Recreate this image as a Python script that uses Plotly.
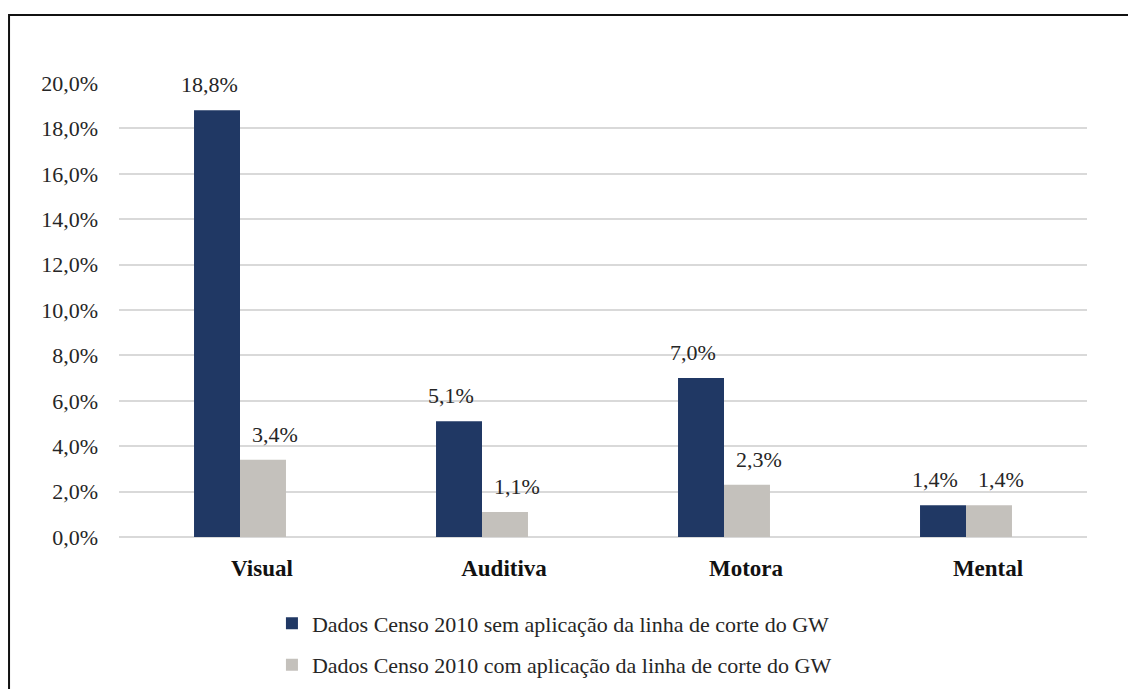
import plotly.graph_objects as go

categories = ["Visual", "Auditiva", "Motora", "Mental"]
sem_corte = [18.8, 5.1, 7.0, 1.4]
com_corte = [3.4, 1.1, 2.3, 1.4]
series_names = [
    "Dados Censo 2010 sem aplicação da linha de corte do GW",
    "Dados Censo 2010 com aplicação da linha de corte do GW",
]
y_ticks = [0, 2, 4, 6, 8, 10, 12, 14, 16, 18, 20]

NAVY = "#203864"
GRAY = "#C4C1BC"
FONT = "'Liberation Serif', 'Times New Roman', Times, serif"

fig = go.Figure()
fig.add_trace(go.Bar(x=categories, y=sem_corte, name=series_names[0],
                     marker=dict(color=NAVY, line=dict(width=0)),
                     legendgroup="a"))
fig.add_trace(go.Bar(x=categories, y=com_corte, name=series_names[1],
                     marker=dict(color=GRAY, line=dict(width=0)),
                     legendgroup="b"))

def fmt(v):
    return f"{v:.1f}".replace(".", ",") + "%"

for vals, shift in ((sem_corte, -31), (com_corte, 35)):
    for c, v in zip(categories, vals):
        fig.add_annotation(x=c, y=v, text=fmt(v), showarrow=False,
                           xshift=shift, yshift=11, yanchor="bottom",
                           font=dict(family=FONT, size=22, color="#262626"))

fig.add_shape(type="rect", xref="paper", yref="paper",
              x0=-0.1136, x1=1.08, y0=-0.4, y1=1.15,
              line=dict(color="#111111", width=2), layer="above")

fig.update_layout(
    width=1128, height=681,
    margin=dict(l=111, r=49, t=75, b=152, autoexpand=False),
    paper_bgcolor="white", plot_bgcolor="white",
    barmode="group", bargap=0.62, bargroupgap=0,
    separators=",.",
    font=dict(family=FONT, size=22, color="#262626"),
    showlegend=True,
    legend=dict(x=0.158, xanchor="left", y=-0.144, yanchor="top",
                orientation="v", traceorder="grouped", tracegroupgap=10,
                font=dict(family=FONT, size=22, color="#262626"),
                itemwidth=30, bgcolor="rgba(0,0,0,0)"),
    xaxis=dict(showgrid=False, showline=False, ticks="",
               tickfont=dict(family=FONT, size=23, color="#111111", weight="bold"),
               ticklabelstandoff=15, ticklabelshift=22),
    yaxis=dict(range=[0, 20], tickvals=y_ticks,
               ticktext=[fmt(t) for t in y_ticks],
               showgrid=True, gridcolor="#D9D9D9", gridwidth=1.5,
               zeroline=True, zerolinecolor="#D9D9D9", zerolinewidth=1.5,
               showline=False, ticks="",
               tickfont=dict(family=FONT, size=22, color="#262626"),
               ticklabelstandoff=20),
)

fig.write_html("out.html")
